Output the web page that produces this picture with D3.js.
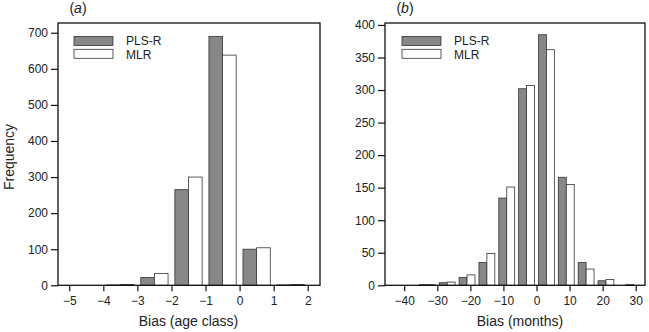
<!DOCTYPE html>
<html>
<head>
<meta charset="utf-8">
<script src="https://cdn.jsdelivr.net/npm/d3@7"></script>
<style>
  body { margin: 0; background: #fff; }
  svg { font-family: "Liberation Sans", Arial, sans-serif; }
</style>
</head>
<body>
<div id="chart"></div>
<script>
// panneau (a) : biais en classes d'age
const binsA = [-5, -4, -3, -2, -1, 0, 1];
const plsA = [0, 1, 22, 265, 690, 100, 1];
const mlrA = [0, 2, 33, 300, 638, 104, 2];
const xTicksA = [-5, -4, -3, -2, -1, 0, 1, 2];
const yTicksA = [0, 100, 200, 300, 400, 500, 600, 700];

// panneau (b) : biais en mois (classes de 6 mois)
const binsB = [-42, -36, -30, -24, -18, -12, -6, 0, 6, 12, 18, 24];
const plsB = [0, 1, 4, 12, 35, 134, 302, 385, 166, 35, 7, 0];
const mlrB = [0, 1, 5, 16, 49, 151, 307, 362, 155, 25, 9, 1];
const xTicksB = [-40, -30, -20, -10, 0, 10, 20, 30];
const yTicksB = [0, 50, 100, 150, 200, 250, 300, 350, 400];

const seriesNames = ["PLS-R", "MLR"];
const colors = ["#878787", "#ffffff"];

const svg = d3.select("#chart").append("svg")
    .attr("width", 649)
    .attr("height", 332);

const fmt = d => d < 0 ? "\u2212" + Math.abs(d) : "" + d;

function panneau(cfg) {
    const x = d3.scaleLinear().domain(cfg.xDomain).range([cfg.left, cfg.right]);
    const y = d3.scaleLinear().domain(cfg.yDomain).range([cfg.bottom, cfg.top]);
    const w = cfg.binWidth;

    // barres
    const g = svg.append("g");
    cfg.bins.forEach((b, i) => {
        g.append("rect")
            .attr("x", x(b + 0.1 * w))
            .attr("y", y(cfg.pls[i]))
            .attr("width", x(b + 0.5 * w) - x(b + 0.1 * w))
            .attr("height", y(0) - y(cfg.pls[i]))
            .attr("fill", colors[0])
            .attr("stroke", "#333")
            .attr("stroke-width", 0.8);
        g.append("rect")
            .attr("x", x(b + 0.5 * w))
            .attr("y", y(cfg.mlr[i]))
            .attr("width", x(b + 0.9 * w) - x(b + 0.5 * w))
            .attr("height", y(0) - y(cfg.mlr[i]))
            .attr("fill", colors[1])
            .attr("stroke", "#333")
            .attr("stroke-width", 0.8);
    });

    // cadre
    svg.append("rect")
        .attr("x", cfg.left)
        .attr("y", cfg.top)
        .attr("width", cfg.right - cfg.left)
        .attr("height", cfg.bottom - cfg.top)
        .attr("fill", "none")
        .attr("stroke", "#111")
        .attr("stroke-width", 1.3);

    const axeX = d3.axisBottom(x).tickValues(cfg.xTicks).tickFormat(fmt)
        .tickSize(6).tickSizeOuter(0).tickPadding(5);
    const axeY = d3.axisLeft(y).tickValues(cfg.yTicks)
        .tickSize(7).tickSizeOuter(0).tickPadding(3);

    const gx = svg.append("g")
        .attr("transform", "translate(0," + cfg.bottom + ")")
        .call(axeX);
    const gy = svg.append("g")
        .attr("transform", "translate(" + cfg.left + ",0)")
        .call(axeY);
    [gx, gy].forEach(a => {
        a.select(".domain").remove();
        a.selectAll("line").attr("stroke", "#111").attr("stroke-width", 1.2);
        a.selectAll("text").attr("font-size", 12).attr("fill", "#222")
            .attr("font-family", "Liberation Sans, Arial, sans-serif");
    });

    // titre de l'axe x
    const milieu = (cfg.xTicks[0] + cfg.xTicks[cfg.xTicks.length - 1]) / 2;
    svg.append("text")
        .attr("x", x(milieu))
        .attr("y", 326)
        .attr("text-anchor", "middle")
        .attr("font-size", 14)
        .attr("fill", "#222")
        .text(cfg.xTitle);

    // étiquette du panneau
    svg.append("text")
        .attr("x", cfg.left + 20)
        .attr("y", 13)
        .attr("text-anchor", "middle")
        .attr("font-size", 14)
        .attr("fill", "#222")
        .html("(<tspan font-style='italic'>" + cfg.label + "</tspan>)");

    // légende
    const lx = cfg.left + cfg.legendDx;
    seriesNames.forEach((s, i) => {
        svg.append("rect")
            .attr("x", lx)
            .attr("y", 36.5 + i * 12.8)
            .attr("width", 39)
            .attr("height", 9)
            .attr("fill", colors[i])
            .attr("stroke", "#333")
            .attr("stroke-width", 0.8);
        svg.append("text")
            .attr("x", lx + 52)
            .attr("y", 44.8 + i * 14)
            .attr("font-size", 12)
            .attr("fill", "#222")
            .text(s);
    });
}

panneau({
    left: 58, right: 320, top: 23, bottom: 285.3,
    xDomain: [-5.33, 2.36], yDomain: [0, 727],
    bins: binsA, pls: plsA, mlr: mlrA, binWidth: 1,
    xTicks: xTicksA, yTicks: yTicksA,
    xTitle: "Bias (age class)", label: "a", legendDx: 16
});

panneau({
    left: 385, right: 645, top: 23, bottom: 285.3,
    xDomain: [-45.8, 32.8], yDomain: [0, 403],
    bins: binsB, pls: plsB, mlr: mlrB, binWidth: 6,
    xTicks: xTicksB, yTicks: yTicksB,
    xTitle: "Bias (months)", label: "b", legendDx: 17
});

// titre de l'axe y
svg.append("text")
    .attr("transform", "translate(14,157) rotate(-90)")
    .attr("text-anchor", "middle")
    .attr("font-size", 14)
    .attr("fill", "#222")
    .text("Frequency");
</script>
</body>
</html>
